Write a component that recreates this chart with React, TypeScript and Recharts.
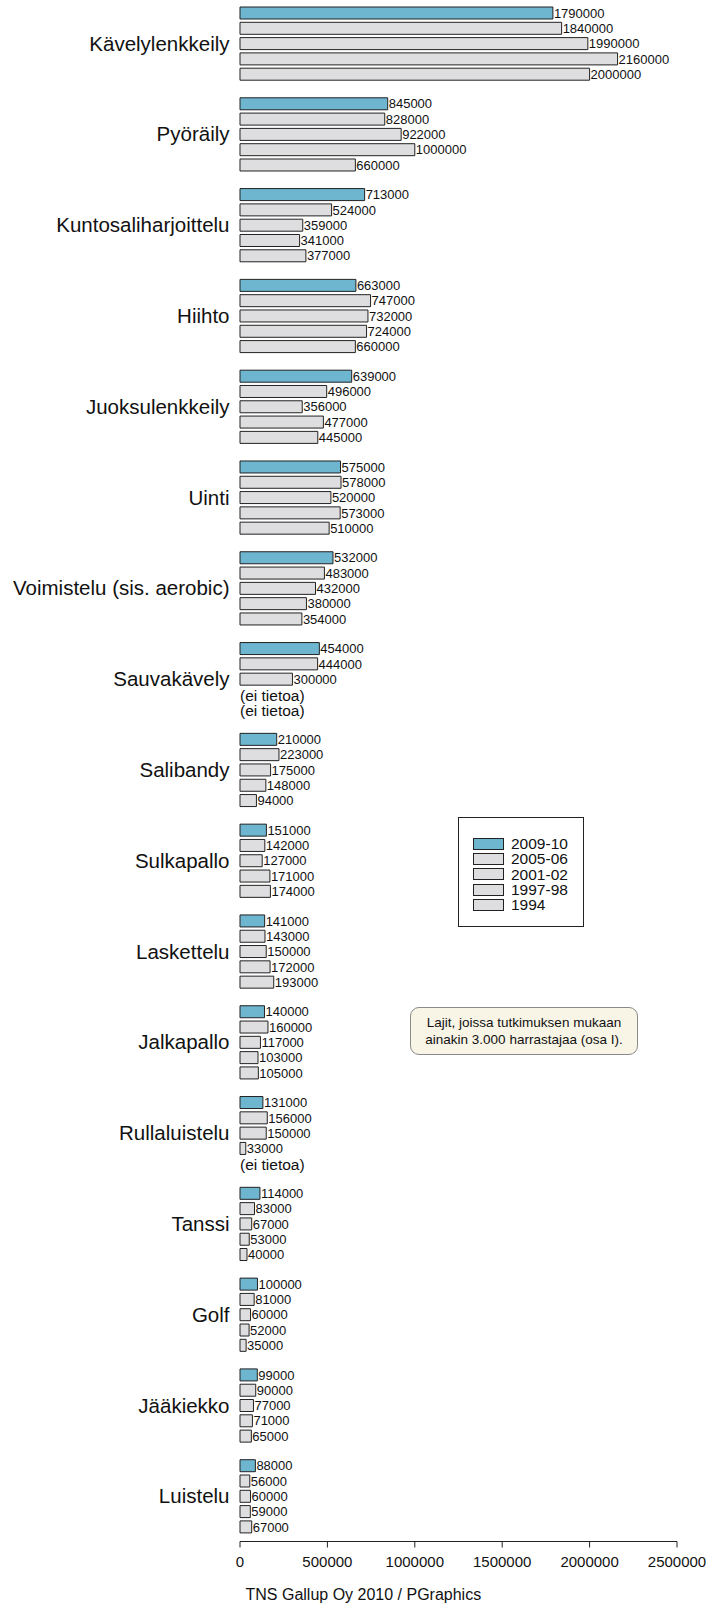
import { BarChart, Bar, XAxis, YAxis, LabelList, Legend } from 'recharts'

// harrastajamäärät, 5 tutkimuskierrosta (null = ei tietoa)
const categories = [
  'Kävelylenkkeily', 'Pyöräily', 'Kuntosaliharjoittelu', 'Hiihto', 'Juoksulenkkeily',
  'Uinti', 'Voimistelu (sis. aerobic)', 'Sauvakävely', 'Salibandy', 'Sulkapallo',
  'Laskettelu', 'Jalkapallo', 'Rullaluistelu', 'Tanssi', 'Golf', 'Jääkiekko', 'Luistelu',
]
const s2009: (number | null)[] = [1790000, 845000, 713000, 663000, 639000, 575000, 532000, 454000, 210000, 151000, 141000, 140000, 131000, 114000, 100000, 99000, 88000]
const s2005: (number | null)[] = [1840000, 828000, 524000, 747000, 496000, 578000, 483000, 444000, 223000, 142000, 143000, 160000, 156000, 83000, 81000, 90000, 56000]
const s2001: (number | null)[] = [1990000, 922000, 359000, 732000, 356000, 520000, 432000, 300000, 175000, 127000, 150000, 117000, 150000, 67000, 60000, 77000, 60000]
const s1997: (number | null)[] = [2160000, 1000000, 341000, 724000, 477000, 573000, 380000, null, 148000, 171000, 172000, 103000, 33000, 53000, 52000, 71000, 59000]
const s1994: (number | null)[] = [2000000, 660000, 377000, 660000, 445000, 510000, 354000, null, 94000, 174000, 193000, 105000, null, 40000, 35000, 65000, 67000]

const seriesNames = ['2009-10', '2005-06', '2001-02', '1997-98', '1994']
const seriesKeys = ['y2009', 'y2005', 'y2001', 'y1997', 'y1994']
const xTicks = [0, 500000, 1000000, 1500000, 2000000, 2500000]
const missingText = '(ei tietoa)'

const BLUE = '#6eb5d0'
const GREY = '#dedee0'
const STROKE = '#222'
const FONT = '"Liberation Sans", Arial, Helvetica, sans-serif'
const BAR_SIZE = 12
const BAR_GAP = 3.3

const allSeries = [s2009, s2005, s2001, s1997, s1994]
const fills = [BLUE, GREY, GREY, GREY, GREY]

// label info: own text + how many following slots have no data
const rows = categories.map((name, i) => {
  const row: any = { name }
  allSeries.forEach((s, j) => {
    const v = s[i]
    let after = 0
    if (v != null) {
      let k = j + 1
      while (k < allSeries.length && allSeries[k][i] == null) { after++; k++ }
    }
    row[seriesKeys[j]] = v
    row[seriesKeys[j] + '_label'] = { text: v == null ? null : String(v), after }
  })
  return row
})

const ValueLabel = (props: any) => {
  const info = props.value
  if (!info || info.text == null) return null
  const base = Number(props.x)
  const w = Number(props.width)
  const y = Number(props.y) + Number(props.height) / 2
  const extra = []
  for (let n = 1; n <= info.after; n++) {
    extra.push(
      <text key={n} x={base} y={y + n * (BAR_SIZE + BAR_GAP) + 6.5} fontSize={15.5} fill="#111" fontFamily={FONT}>
        {missingText}
      </text>
    )
  }
  return (
    <g>
      <text x={base + w + 1} y={y} dy="0.36em" fontSize={13} fill="#111" fontFamily={FONT}>
        {info.text}
      </text>
      {extra}
    </g>
  )
}

const LegendBox = () => (
  <div style={{
    width: 126, height: 110, boxSizing: 'border-box', border: '1px solid ' + STROKE,
    background: '#fff', paddingTop: 18, paddingLeft: 14, fontFamily: FONT,
  }}>
    {seriesNames.map((n, i) => (
      <div key={n} style={{ display: 'flex', alignItems: 'center', height: 15.3 }}>
        <div style={{
          width: 31, height: 12, boxSizing: 'border-box', border: '1px solid ' + STROKE,
          background: fills[i],
        }} />
        <span style={{ marginLeft: 7, fontSize: 15.5, color: '#111', lineHeight: '15px' }}>{n}</span>
      </div>
    ))}
  </div>
)

export default function App() {
  return (
    <div style={{ position: 'absolute', left: 0, top: 0, width: 710, height: 1604, fontFamily: FONT }}>
      <div style={{ position: 'absolute', left: 0, top: -2 }}>
        <BarChart
          width={710}
          height={1604}
          data={rows}
          layout="vertical"
          margin={{ top: 0, right: 33, left: 0, bottom: 30.5 }}
          barSize={BAR_SIZE}
          barGap={BAR_GAP}
        >
          <XAxis
            type="number"
            domain={[0, 2500000]}
            ticks={xTicks}
            interval={0}
            tickSize={6}
            tickMargin={9}
            axisLine={{ stroke: STROKE }}
            tickLine={{ stroke: STROKE }}
            tick={{ fontSize: 15, fill: '#111', fontFamily: FONT }}
          />
          <YAxis
            type="category"
            dataKey="name"
            width={240}
            interval={0}
            tickSize={0}
            tickMargin={10.5}
            axisLine={false}
            tickLine={false}
            tick={{ fontSize: 20.5, fill: '#111', fontFamily: FONT }}
          />
          <Legend
            layout="horizontal"
            verticalAlign="middle"
            align="center"
            wrapperStyle={{ left: 458, top: 819, width: 126, height: 110 }}
            content={() => <LegendBox />}
          />
          {seriesKeys.map((k, i) => (
            <Bar key={k} dataKey={k} name={seriesNames[i]} fill={fills[i]} stroke={STROKE}
              strokeWidth={1} isAnimationActive={false}>
              <LabelList dataKey={k + '_label'} content={ValueLabel} />
            </Bar>
          ))}
        </BarChart>
      </div>
      <div style={{
        position: 'absolute', left: 410, top: 1007, width: 228, height: 48, boxSizing: 'border-box',
        border: '1px solid #8a8a8a', borderRadius: 9, background: '#f8f5e6',
        fontSize: 13.5, lineHeight: '17.3px', color: '#111', textAlign: 'center',
        paddingTop: 6,
      }}>
        Lajit, joissa tutkimuksen mukaan<br />ainakin 3.000 harrastajaa (osa I).
      </div>
      <div style={{
        position: 'absolute', left: 245.5, top: 1585, fontSize: 16, lineHeight: '19px', color: '#111',
      }}>
        TNS Gallup Oy 2010 / PGraphics
      </div>
    </div>
  )
}
